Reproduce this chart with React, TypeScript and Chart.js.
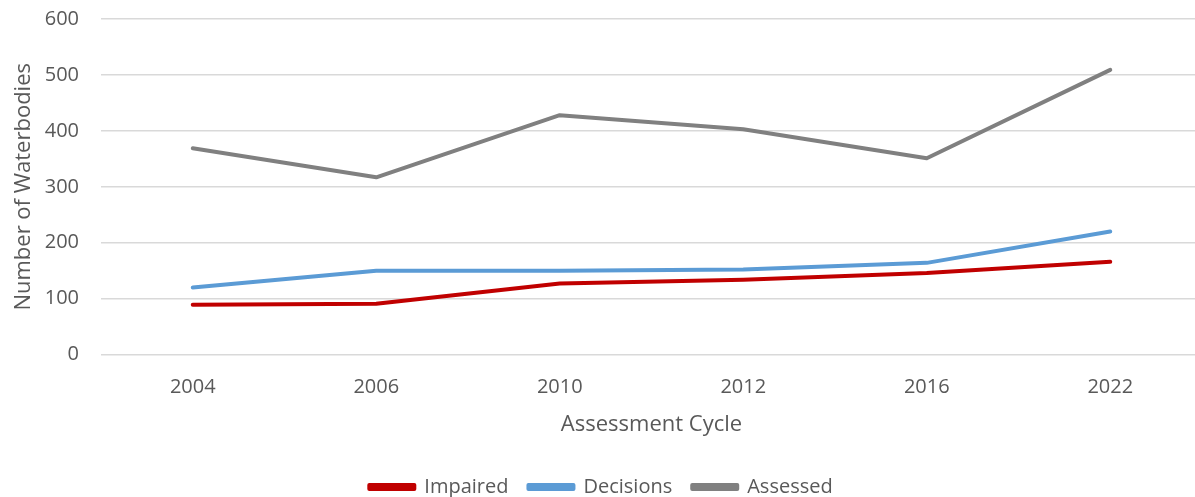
import React, { useEffect, useRef } from "react";
import { Chart, registerables } from "chart.js";

Chart.register(...registerables);

const categories = ["2004", "2006", "2010", "2012", "2016", "2022"];
const impaired = [89, 91, 127, 134, 146, 166];
const decisions = [120, 150, 150, 152, 164, 220];
const assessed = [369, 317, 428, 403, 351, 509];
const seriesNames = ["Impaired", "Decisions", "Assessed"];
const seriesColors = ["#C00000", "#5B9BD5", "#808080"];

const FONT = "'Open Sans', 'Liberation Sans', sans-serif";
const TEXT = "#595959";
const CANVAS_W = 1202;
const CANVAS_H = 507;

export default function App() {
  const ref = useRef<HTMLCanvasElement | null>(null);
  useEffect(() => {
    if (!ref.current) return;
    const values = [impaired, decisions, assessed];
    const chart = new Chart(ref.current, {
      type: "line",
      data: {
        labels: categories,
        datasets: seriesNames.map((name, i) => ({
          label: name,
          data: values[i],
          borderColor: seriesColors[i],
          backgroundColor: seriesColors[i],
          borderWidth: 4,
          pointRadius: 0,
          tension: 0,
          borderCapStyle: "round" as const,
          borderJoinStyle: "round" as const,
        })),
      },
      options: {
        animation: false,
        responsive: false,
        maintainAspectRatio: false,
        layout: { padding: { left: 0, right: 0, top: 19, bottom: 0 } },
        plugins: {
          tooltip: { enabled: false },
          legend: {
            position: "bottom",
            labels: {
              boxWidth: 45,
              boxHeight: 4,
              color: TEXT,
              font: { family: FONT, size: 20 },
              padding: 20,
            },
          },
        },
        scales: {
          x: {
            offset: true,
            grid: { display: false },
            border: { display: false },
            ticks: { color: TEXT, font: { family: FONT, size: 20 }, padding: 13 },
            title: {
              display: true,
              text: "Assessment Cycle",
              color: TEXT,
              font: { family: FONT, size: 22 },
              padding: { top: -1, bottom: 19 },
            },
          },
          y: {
            min: 0,
            max: 600,
            afterFit: (scale: any) => {
              scale.width = 101;
            },
            ticks: { stepSize: 100, color: TEXT, font: { family: FONT, size: 20 }, padding: 0 },
            grid: {
              color: "#D9D9D9",
              lineWidth: 1.5,
              drawTicks: true,
              tickLength: 22,
              tickColor: "rgba(0,0,0,0)",
            },
            border: { display: false },
            title: {
              display: true,
              text: "Number of Waterbodies",
              color: TEXT,
              font: { family: FONT, size: 22 },
              padding: { top: 11, bottom: 4 },
            },
          },
        },
      },
    });
    return () => chart.destroy();
  }, []);
  return (
    <div
      style={{
        position: "fixed",
        left: 0,
        top: 0,
        width: 1195,
        height: 497,
        overflow: "hidden",
        background: "#fff",
      }}
    >
      <canvas ref={ref} width={CANVAS_W} height={CANVAS_H} style={{ width: CANVAS_W, height: CANVAS_H }} />
    </div>
  );
}
